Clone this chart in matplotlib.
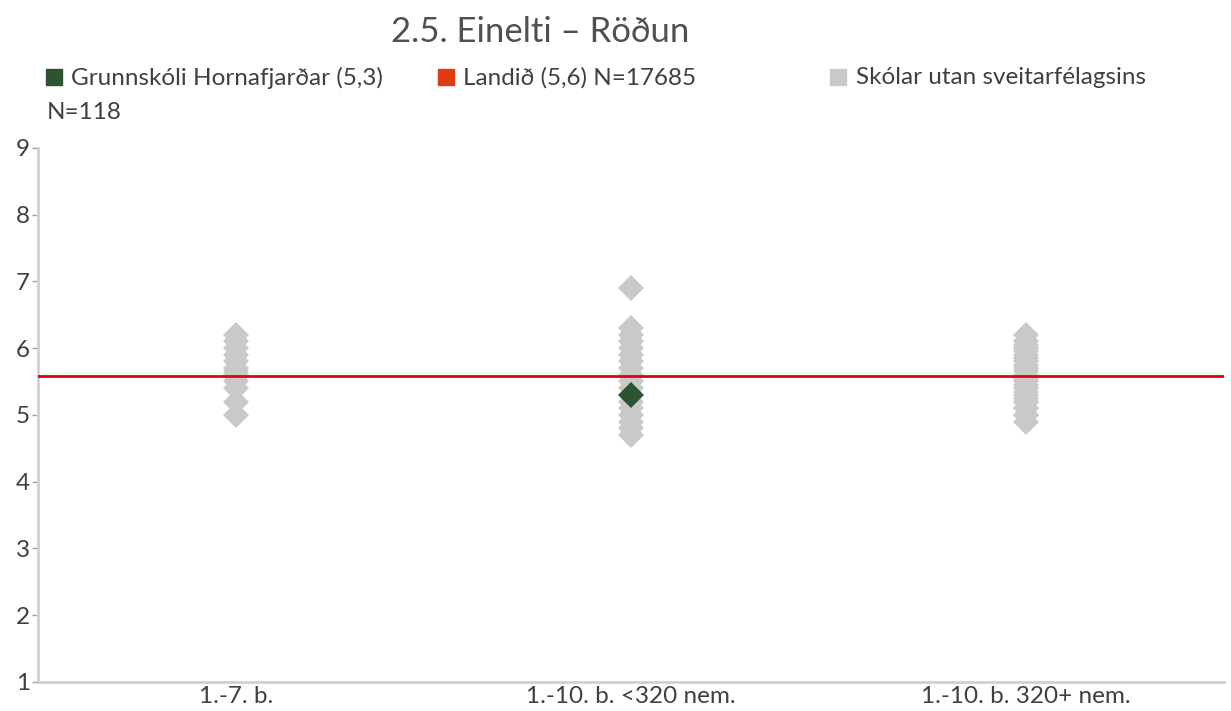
import matplotlib.pyplot as plt
from matplotlib.lines import Line2D

## Data
categories = ['1.-7. b.', '1.-10. b. <320 nem.', '1.-10. b. 320+ nem.']
other_schools = [
    [5.0, 5.2, 5.4, 5.5, 5.6, 5.65, 5.7, 5.8, 5.9, 6.0, 6.1, 6.2],
    [4.7, 4.8, 4.9, 5.0, 5.1, 5.2, 5.4, 5.5, 5.6, 5.7, 5.8, 5.9, 6.0, 6.1, 6.2, 6.3, 6.9],
    [4.9, 5.0, 5.0, 5.1, 5.1, 5.2, 5.2, 5.25, 5.3, 5.35, 5.4, 5.45, 5.5, 5.55, 5.6,
     5.65, 5.7, 5.75, 5.8, 5.85, 5.9, 5.95, 6.0, 6.05, 6.1, 6.2],
]
school_category = 1
school_value = 5.3
national_value = 5.58
legend_labels = ['Grunnskóli Hornafjarðar (5,3)', 'Landið (5,6) N=17685', 'Skólar utan sveitarfélagsins']
legend_extra = 'N=118'

## Style
GREEN = '#2e5330'
RED = '#e4000f'
LEGEND_RED = '#e03c14'
GRAY = '#c9c9c9'
TEXT = '#404040'
plt.rcParams['font.family'] = ['Lato', 'DejaVu Sans']

fig = plt.figure(figsize=(12.31, 7.11), dpi=100)
ax = fig.add_axes([0.031, 0.041, 0.963, 0.751])

for i, vals in enumerate(other_schools):
    ax.plot([i] * len(vals), vals, linestyle='none', marker='D', markersize=13.5,
            color=GRAY, markeredgewidth=0, zorder=2)
ax.axhline(national_value, color=RED, linewidth=2, zorder=3)
ax.plot([school_category], [school_value], linestyle='none', marker='D', markersize=13.5,
        color=GREEN, markeredgewidth=0, zorder=4)

ax.set_xlim(-0.5, 2.5)
ax.set_ylim(1, 9)
ax.set_yticks(range(1, 10))
ax.set_xticks(range(len(categories)))
ax.set_xticklabels(categories)
ax.tick_params(axis='y', length=4, width=1, color='#a0a0a0', labelsize=17.5, labelcolor=TEXT, pad=2)
ax.tick_params(axis='x', length=0, labelsize=17.5, labelcolor=TEXT, pad=3)
for s in ['top', 'right']:
    ax.spines[s].set_visible(False)
for s in ['left', 'bottom']:
    ax.spines[s].set_color('#d0d0d0')
    ax.spines[s].set_linewidth(2)

## Title and legend
fig.text(0.439, 0.955, '2.5. Einelti – Röðun', fontsize=25, color='#505050',
         ha='center', va='center')

legend_colors = [GREEN, LEGEND_RED, GRAY]
legend_x = [0.038, 0.356, 0.675]
for x, lab, c in zip(legend_x, legend_labels, legend_colors):
    fig.add_artist(Line2D([x + 0.006], [0.891], transform=fig.transFigure, marker='s',
                          markersize=11, color=c, linestyle='none'))
    fig.text(x + 0.020, 0.891, lab, fontsize=17.5, color=TEXT, va='center')
fig.text(0.038, 0.842, legend_extra, fontsize=17.5, color=TEXT, va='center')

fig.savefig('out.png', dpi=100)
